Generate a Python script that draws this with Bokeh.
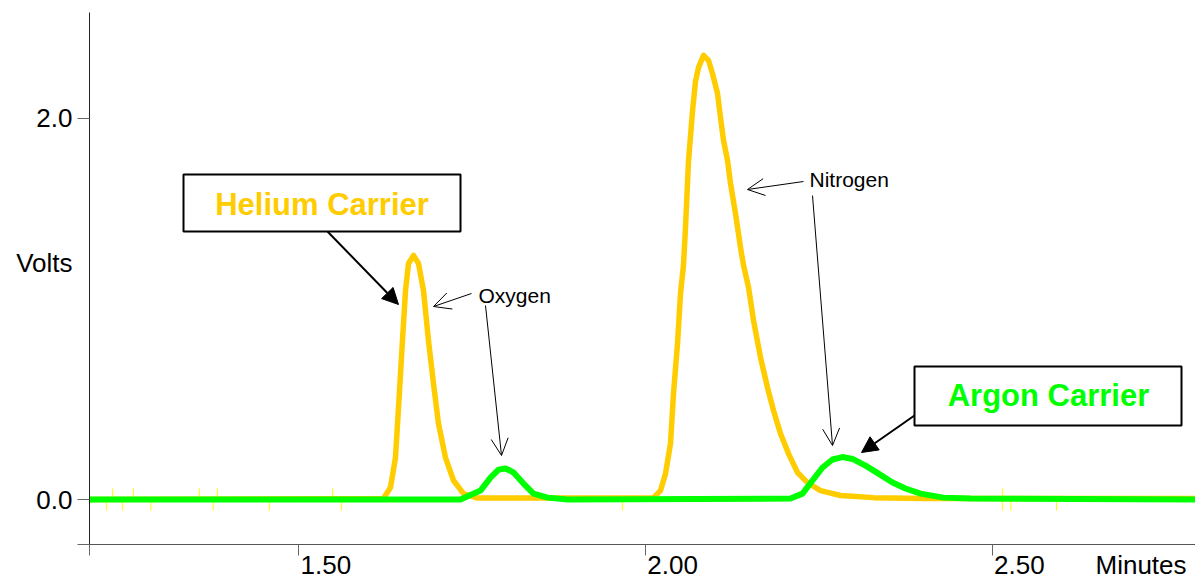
from bokeh.plotting import figure
from bokeh.models import (Range1d, FixedTicker, CustomJSTickFormatter, Label,
                          Arrow, NormalHead, OpenHead, BoxAnnotation)
from bokeh.embed import file_html
from bokeh.resources import INLINE

# ---------------- data ----------------
# Helium carrier trace (minutes, volts)
helium_t = [1.190, 1.6225, 1.6326, 1.6398, 1.6442, 1.6499, 1.6543, 1.6586, 1.6658,
            1.6730, 1.6802, 1.6874, 1.6946, 1.7018, 1.7119, 1.7235, 1.7379, 1.7581,
            2.0000, 2.0119, 2.0220, 2.0292, 2.0364, 2.0407, 2.0465, 2.0508, 2.0551,
            2.0580, 2.0623, 2.0681, 2.0724, 2.0768, 2.0840, 2.0912, 2.0969, 2.1042,
            2.1085, 2.1128, 2.1186, 2.1229, 2.1301, 2.1373, 2.1416, 2.1489, 2.1561,
            2.1662, 2.1762, 2.1849, 2.1950, 2.2065, 2.2195, 2.2339, 2.2527, 2.2815,
            2.3291, 2.4012, 2.800]
helium_v = [0.000, 0.005, 0.063, 0.220, 0.483, 0.835, 1.097, 1.239, 1.281,
            1.239, 1.097, 0.835, 0.609, 0.399, 0.220, 0.100, 0.031, 0.008,
            0.008, 0.010, 0.047, 0.136, 0.294, 0.556, 0.819, 1.081, 1.230,
            1.428, 1.774, 2.037, 2.194, 2.268, 2.331, 2.304, 2.236, 2.131,
            2.005, 1.885, 1.780, 1.659, 1.501, 1.323, 1.230, 1.113, 0.940,
            0.745, 0.588, 0.467, 0.346, 0.241, 0.142, 0.089, 0.047, 0.021,
            0.010, 0.005, 0.005]

# Argon carrier trace (minutes, volts)
argon_t = [1.190, 1.7336, 1.7624, 1.7768, 1.7884, 1.7985, 1.8100, 1.8244, 1.8388,
           1.8590, 1.8879, 2.2094, 2.2267, 2.2411, 2.2556, 2.2700, 2.2844, 2.2988,
           2.3176, 2.3363, 2.3565, 2.3752, 2.3969, 2.4300, 2.4690, 2.800]
argon_v = [0.000, 0.000, 0.047, 0.115, 0.157, 0.163, 0.142, 0.084, 0.031,
           0.010, 0.000, 0.005, 0.031, 0.100, 0.168, 0.210, 0.223, 0.213,
           0.178, 0.136, 0.089, 0.058, 0.031, 0.010, 0.005, 0.000]

# small baseline noise spikes on the helium trace
spike_t = [1.223, 1.232, 1.246, 1.262, 1.287, 1.357, 1.377, 1.383, 1.458,
           1.549, 1.562, 1.967, 2.515, 2.527, 2.593]
spike_lo = [-0.058, 0.0, -0.058, 0.0, -0.058, 0.0, -0.058, 0.0, -0.058,
            0.0, -0.058, -0.058, -0.058, -0.058, -0.058]
spike_hi = [0.0, 0.058, 0.0, 0.058, 0.0, 0.058, 0.0, 0.058, 0.0,
            0.058, 0.0, 0.0, 0.058, 0.0, 0.0]

x_ticks = [1.5, 2.0, 2.5]
x_tick_labels = ["1.50", "2.00", "2.50"]
y_ticks = [0.0, 2.0]
y_tick_labels = ["0.0", "2.0"]
x_title = "Minutes"
y_title = "Volts"

# ---------------- layout ----------------
W, H = 1195, 587
FL, FT, FB = 89, 12, 544
X_MIN, X_MAX = 1.1986, 2.7934
Y_MIN, Y_MAX = -0.236, 2.556
PX_PER_MIN = (W - FL) / (X_MAX - X_MIN)


def X(px):
    return X_MIN + (px - FL) / PX_PER_MIN


def Y(py):
    return Y_MAX - (py - FT) * (Y_MAX - Y_MIN) / (FB - FT)


FONT = "Liberation Sans"
YELLOW = "#FFCC00"
GREEN = "#00FF00"
TICK_FS = 26

p = figure(width=W, height=H, x_range=Range1d(X_MIN, X_MAX), y_range=Range1d(Y_MIN, Y_MAX),
           output_backend="svg", toolbar_location=None,
           min_border_left=FL, min_border_right=0, min_border_top=FT, min_border_bottom=H - FB)
p.outline_line_color = None
p.grid.visible = False
p.background_fill_color = "white"
p.border_fill_color = "white"

JS_FMT = ("for (let i = 0; i < vals.length; i++) { if (Math.abs(tick - vals[i]) < 1e-6) return labs[i]; } "
          "return '';")

# y axis: visible tick marks are minor ticks; labels (incl. the axis title) are major ticks
y_lab_pos = y_ticks + [Y(262.5)]
y_lab_txt = y_tick_labels + [y_title]
p.yaxis.ticker = FixedTicker(ticks=y_lab_pos, minor_ticks=[Y_MIN] + y_ticks)
p.yaxis.formatter = CustomJSTickFormatter(args=dict(vals=y_lab_pos, labs=y_lab_txt), code=JS_FMT)
p.yaxis.axis_line_color = "#222222"
p.yaxis.major_tick_line_color = None
p.yaxis.major_tick_out = 12
p.yaxis.major_tick_in = 0
p.yaxis.minor_tick_line_color = "#666666"
p.yaxis.minor_tick_out = 12
p.yaxis.minor_tick_in = 0
p.yaxis.major_label_standoff = 5
p.yaxis.major_label_text_font = FONT
p.yaxis.major_label_text_font_size = f"{TICK_FS}px"
p.yaxis.major_label_text_color = "black"

# x axis: labels left-aligned just right of their tick -> shift label positions by half a label width
dx = (1.946 * TICK_FS / 2 + 2) / PX_PER_MIN
x_lab_pos = [t + dx for t in x_ticks] + [X(1095 + 3.501 * TICK_FS / 2)]
x_lab_txt = x_tick_labels + [x_title]
p.xaxis.ticker = FixedTicker(ticks=x_lab_pos, minor_ticks=[X_MIN] + x_ticks)
p.xaxis.formatter = CustomJSTickFormatter(args=dict(vals=x_lab_pos, labs=x_lab_txt), code=JS_FMT)
p.xaxis.axis_line_color = "#555555"
p.xaxis.major_tick_line_color = None
p.xaxis.major_tick_out = 11
p.xaxis.major_tick_in = 0
p.xaxis.minor_tick_line_color = "#666666"
p.xaxis.minor_tick_out = 11
p.xaxis.minor_tick_in = 0
p.xaxis.major_label_standoff = -6
p.xaxis.major_label_text_font = FONT
p.xaxis.major_label_text_font_size = f"{TICK_FS}px"
p.xaxis.major_label_text_color = "black"

# traces
p.segment(x0=spike_t, y0=spike_lo, x1=spike_t, y1=spike_hi, line_color="#FFFF00", line_width=1)
p.line(helium_t, helium_v, line_color=YELLOW, line_width=5.5, line_join="round", line_cap="round")
p.line(argon_t, argon_v, line_color=GREEN, line_width=6, line_join="round", line_cap="round")

# carrier boxes
p.add_layout(BoxAnnotation(left=X(183), right=X(460), top=Y(174), bottom=Y(231),
                           fill_color="white", fill_alpha=1, line_color="black", line_alpha=1, line_width=2))
p.add_layout(Label(x=X(321.5), y=Y(203.5), text="Helium Carrier", text_align="center", text_baseline="middle",
                   text_font=FONT, text_font_style="bold", text_font_size="31px", text_color=YELLOW))
p.add_layout(BoxAnnotation(left=X(914), right=X(1181), top=Y(366), bottom=Y(425),
                           fill_color="white", fill_alpha=1, line_color="black", line_alpha=1, line_width=2))
p.add_layout(Label(x=X(1048), y=Y(394.5), text="Argon Carrier", text_align="center", text_baseline="middle",
                   text_font=FONT, text_font_style="bold", text_font_size="31px", text_color=GREEN))

# filled arrows from the boxes
for (sx, sy, ex, ey) in [(327, 231, 398, 304), (914, 415, 861, 452)]:
    p.add_layout(Arrow(x_start=X(sx), y_start=Y(sy), x_end=X(ex), y_end=Y(ey), line_color="black", line_width=2,
                       end=NormalHead(size=16, fill_color="black", line_color="black", line_width=1)))

# peak labels
p.add_layout(Label(x=X(478), y=Y(295), text="Oxygen", text_align="left", text_baseline="middle",
                   text_font=FONT, text_font_size="21px", text_color="black"))
p.add_layout(Label(x=X(809), y=Y(179), text="Nitrogen", text_align="left", text_baseline="middle",
                   text_font=FONT, text_font_size="21px", text_color="black"))
for (sx, sy, ex, ey) in [(471, 293, 433, 306), (485, 305, 501, 455),
                         (803, 181, 747, 189), (812, 195, 832, 445)]:
    p.add_layout(Arrow(x_start=X(sx), y_start=Y(sy), x_end=X(ex), y_end=Y(ey), line_color="black", line_width=1,
                       end=OpenHead(size=17, line_color="black", line_width=1)))

open("out.html", "w").write(file_html(p, INLINE))
